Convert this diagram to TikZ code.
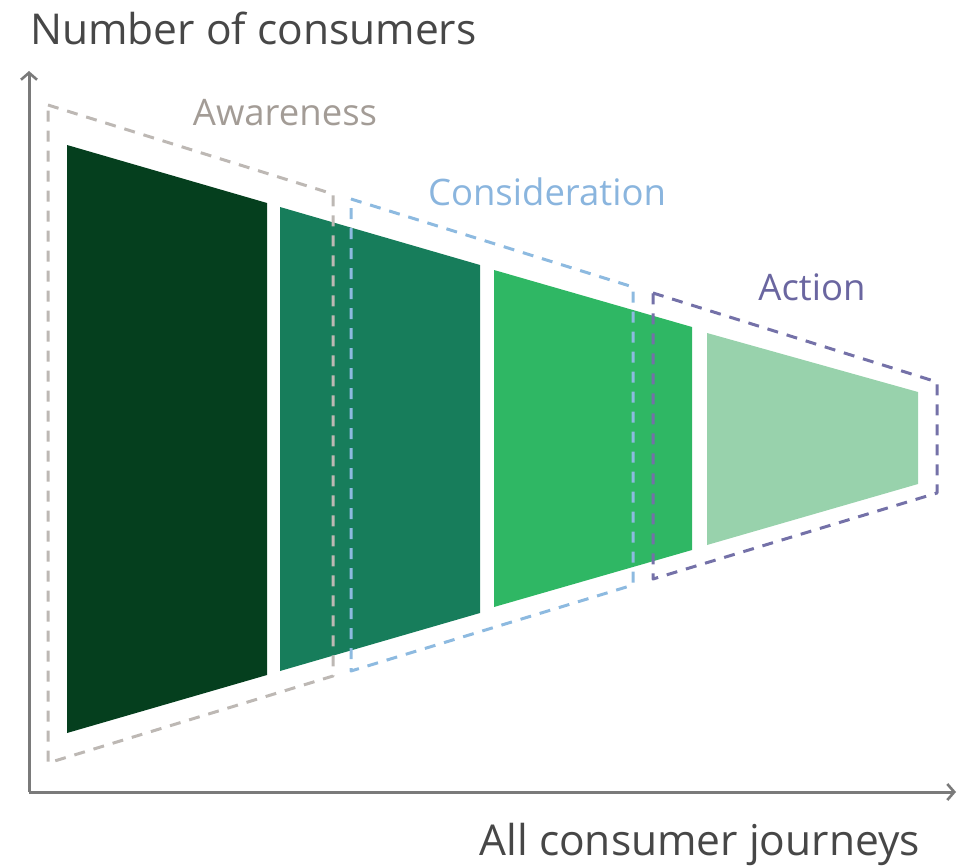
\documentclass[tikz,border=0pt]{standalone}
\usepackage{fontspec}
\setmainfont{Open Sans}
\usetikzlibrary{arrows.meta}
\definecolor{axisgray}{HTML}{7A7A7A}
\definecolor{stageA}{HTML}{053F1E}
\definecolor{stageB}{HTML}{177D5B}
\definecolor{stageC}{HTML}{2FB764}
\definecolor{stageD}{HTML}{98D2AC}
\definecolor{awareC}{HTML}{BDB8B4}
\definecolor{awareT}{HTML}{A39C96}
\definecolor{consC}{HTML}{8DBAE0}
\definecolor{consT}{HTML}{8AB5DE}
\definecolor{actC}{HTML}{7471A8}
\definecolor{actT}{HTML}{6A66A0}
\begin{document}
\begin{tikzpicture}[x=1pt,y=-1pt,
  axis/.style={draw=axisgray,line width=3pt,-{Straight Barb[length=7pt,width=16pt,line width=2.6pt]}},
  stagebox/.style={dash pattern=on 11pt off 9pt,line width=3pt,line join=round},
  stagelabel/.style={font=\fontsize{36.5}{42}\selectfont,inner sep=0pt},
  axislabel/.style={font=\fontsize{42.5}{48}\selectfont,text=black!72,inner sep=0pt}]
\useasboundingbox (0,0) rectangle (958,867);
% funnel segments
\fill[stageA] (67,145) -- (267,203) -- (267,675) -- (67,733) -- cycle;
\fill[stageB] (280,207) -- (480,265) -- (480,613) -- (280,671) -- cycle;
\fill[stageC] (494,270) -- (692,327) -- (692,550) -- (494,607) -- cycle;
\fill[stageD] (707,333) -- (918,392) -- (918,484) -- (707,545) -- cycle;
% stage outlines
\draw[stagebox,draw=awareC] (48,105) -- (333,194) -- (333,676) -- (48,763) -- cycle;
\draw[stagebox,draw=consC] (351,199) -- (633,287) -- (633,585) -- (351,671) -- cycle;
\draw[stagebox,draw=actC] (653,293) -- (937,382) -- (937,493) -- (653,579) -- cycle;
% axes
\coordinate (origin) at (29,792);
\coordinate (ytip) at (29,71);
\coordinate (xtip) at (956,792);
\draw[axis] (origin) -- (ytip);
\draw[axis] (origin) -- (xtip);
% labels
\node[axislabel,anchor=base west] (ylabel) at (30,45) {Number of consumers};
\node[axislabel,anchor=base east] (xlabel) at (920,855) {All consumer journeys};
\node[stagelabel,text=awareT,anchor=base] (aware) at (285,125) {Awareness};
\node[stagelabel,text=consT,anchor=base] (cons) at (547,205) {Consideration};
\node[stagelabel,text=actT,anchor=base] (act) at (812,300) {Action};
\end{tikzpicture}
\end{document}
